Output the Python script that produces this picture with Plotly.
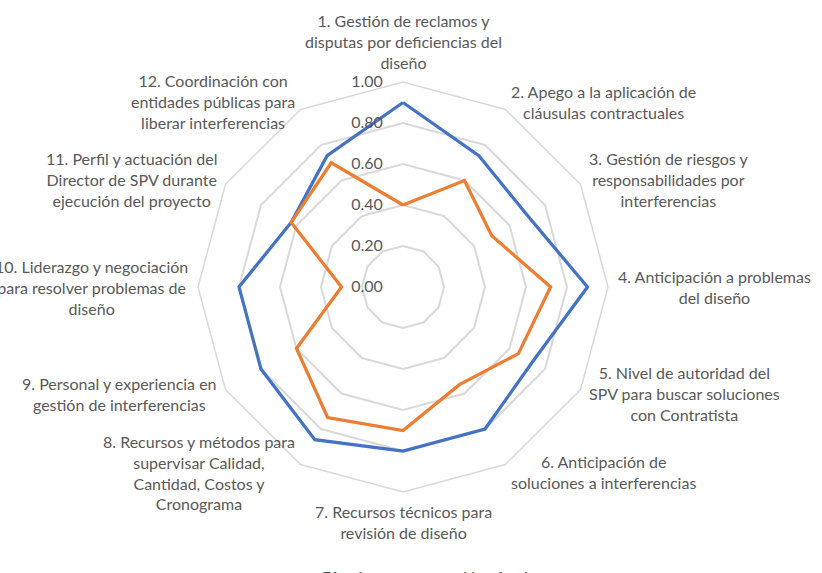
# ----------------------------------------------------------LIBRARIES----------------------------------------------------------#
import math
import plotly.graph_objects as go
# ----------------------------------------------------------VARIABLES----------------------------------------------------------#
categoryLabels = [
    '1. Gestión de reclamos y<br>disputas por deficiencias del<br>diseño',
    '2. Apego a la aplicación de<br>cláusulas contractuales',
    '3. Gestión de riesgos y<br>responsabilidades por<br>interferencias',
    '4. Anticipación a problemas<br>del diseño',
    '5. Nivel de autoridad del<br>SPV para buscar soluciones<br>con Contratista',
    '6. Anticipación de<br>soluciones a interferencias',
    '7. Recursos técnicos para<br>revisión de diseño',
    '8. Recursos y métodos para<br>supervisar Calidad,<br>Cantidad, Costos y<br>Cronograma',
    '9. Personal y experiencia en<br>gestión de interferencias',
    '10. Liderazgo y negociación<br>para resolver problemas de<br>diseño',
    '11. Perfil y actuación del<br>Director de SPV durante<br>ejecución del proyecto',
    '12. Coordinación con<br>entidades públicas para<br>liberar interferencias',
]
# Scores
efectivosValues = [0.90, 0.74, 0.70, 0.90, 0.73, 0.80, 0.80, 0.86, 0.80, 0.80, 0.63, 0.74]
noEfectivosValues = [0.40, 0.60, 0.50, 0.72, 0.65, 0.55, 0.70, 0.735, 0.60, 0.30, 0.63, 0.70]
radialTicks = [0, 0.2, 0.4, 0.6, 0.8, 1.0]

textColor = '#595959'
gridColor = '#D9D9D9'
fontFamily = 'Lato'
figWidth, figHeight = 822, 573
# Polar centre and radius in pixels, category labels sit a little outside the outer ring
centerX, centerY, radius = 403, 287, 205
labelDistance = radius + 9
# ----------------------------------------------------------FUNCTIONS----------------------------------------------------------#
def labelAnnotation(index, text):
    # Excel style: centred text block hooked on the outside of the ring
    angle = 360.0 * index / len(categoryLabels)
    px = centerX + labelDistance * math.sin(math.radians(angle))
    py = centerY - labelDistance * math.cos(math.radians(angle))
    if angle == 0:
        xanchor, yanchor = 'center', 'bottom'
    elif angle == 180:
        xanchor, yanchor = 'center', 'top'
    elif angle < 180:
        xanchor, yanchor = 'left', 'middle'
    else:
        xanchor, yanchor = 'right', 'middle'
    return dict(x=px / figWidth, y=1 - py / figHeight, xref='paper', yref='paper', text=text, showarrow=False,
                xanchor=xanchor, yanchor=yanchor, align='center', borderpad=0,
                font=dict(family=fontFamily, size=16, color=textColor))
# -----------------------------------------------------------MAINCODE----------------------------------------------------------#
fig = go.Figure()
# Close the polygon by repeating the first point
fig.add_trace(go.Scatterpolar(r=efectivosValues + efectivosValues[:1], theta=categoryLabels + categoryLabels[:1],
                              mode='lines', name='Efectivos', line=dict(color='#4472C4', width=3.25)))
fig.add_trace(go.Scatterpolar(r=noEfectivosValues + noEfectivosValues[:1], theta=categoryLabels + categoryLabels[:1],
                              mode='lines', name='No efectivos', line=dict(color='#ED7D31', width=3.25)))

fig.update_layout(
    width=figWidth, height=figHeight,
    paper_bgcolor='white', plot_bgcolor='white',
    font=dict(family=fontFamily, size=16, color=textColor),
    margin=dict(l=0, r=0, t=0, b=0, autoexpand=False),
    polar=dict(
        domain=dict(x=[(centerX - radius) / figWidth, (centerX + radius) / figWidth],
                    y=[1 - (centerY + radius) / figHeight, 1 - (centerY - radius) / figHeight]),
        bgcolor='white',
        gridshape='linear',
        angularaxis=dict(direction='clockwise', rotation=90, showgrid=False, showline=True, showticklabels=False,
                         linecolor=gridColor, linewidth=1.5, ticks=''),
        radialaxis=dict(range=[0, 1], tickvals=radialTicks, tickformat='.2f', showline=False,
                        ticks='outside', ticklen=14, tickcolor='rgba(0,0,0,0)',
                        angle=90, side='counterclockwise', tickangle=90,
                        gridcolor=gridColor, gridwidth=1.5, tickfont=dict(size=16, color=textColor)),
    ),
    annotations=[labelAnnotation(i, label) for i, label in enumerate(categoryLabels)],
    showlegend=True,
    legend=dict(orientation='h', x=282 / figWidth, xanchor='left', y=1 - 577 / figHeight, yanchor='middle',
                entrywidth=96, font=dict(size=16, color=textColor)),
)

# drop the default page margin so the figure sits at the window corner
fig.write_html('out.html', config={'displayModeBar': False},
               post_script="document.body.style.margin='0px';")
